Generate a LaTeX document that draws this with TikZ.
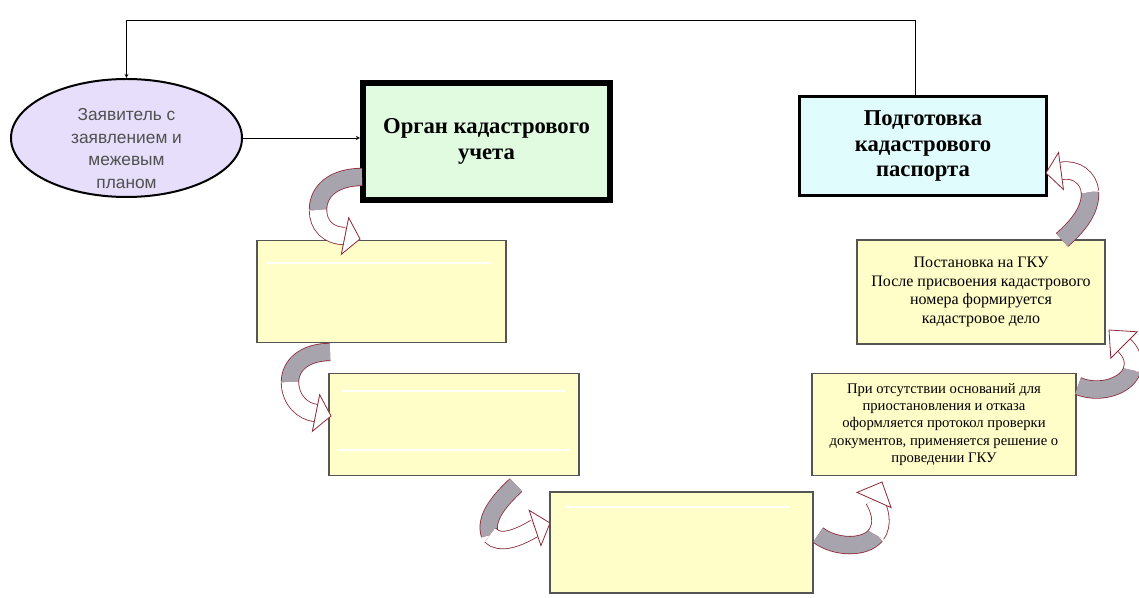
\documentclass[tikz,border=0pt]{standalone}
\usepackage{fontspec}
\setmainfont{Liberation Serif}
\newfontfamily\ovalfont{Liberation Sans}
\usetikzlibrary{calc,shapes.geometric}

\definecolor{lavender}{RGB}{230,222,250}
\definecolor{mint}{RGB}{224,251,224}
\definecolor{icecyan}{RGB}{224,252,252}
\definecolor{paleyellow}{RGB}{255,253,200}
\definecolor{bandgray}{RGB}{168,164,174}
\definecolor{bandred}{RGB}{140,40,55}
\definecolor{boxgray}{RGB}{85,85,85}
\definecolor{ovaltext}{RGB}{80,80,80}

% head of a curved block arrow: base point, tip point
\newcommand{\bandhead}[2]{\draw[headtip] (#2) -- ($(#1)!14pt!90:(#2)$) -- ($(#1)!14pt!-90:(#2)$) -- cycle;}

\begin{document}
\begin{tikzpicture}[x=0.75pt, y=-0.75pt, >=stealth,
    oval/.style = {draw, ellipse, line width=1.5pt, fill=lavender, minimum width=231*0.75pt, minimum height=118*0.75pt, inner sep=0pt},
    mainbox/.style = {draw, fill=mint, line width=4.5pt, minimum width=247*0.75pt, minimum height=117*0.75pt, align=center, font=\bfseries\fontsize{17}{20}\selectfont},
    passbox/.style = {draw, fill=icecyan, line width=2.2pt, minimum width=247*0.75pt, minimum height=99*0.75pt, align=center, font=\bfseries\fontsize{17}{19}\selectfont},
    stepbox/.style = {draw=boxgray, fill=paleyellow, line width=0.8pt, minimum height=102*0.75pt, align=center, inner sep=0pt},
    gloss/.style = {white, line width=1.3pt},
    band/.style = {draw=bandred, line width=0.6pt, double distance=12.5pt},
    headtip/.style = {draw=bandred, fill=white, line width=0.6pt, line join=miter}]
    \useasboundingbox (0,0) rectangle (1139,598);

    %% Nodes
    \node[oval, label={[font=\ovalfont\fontsize{13}{17}\selectfont, text=ovaltext, align=center, yshift=-8pt]center:Заявитель с\\заявлением и\\межевым\\планом}] (applicant) at (126.5,138) {};
    \node[mainbox] (organ) at (486.5,141.5) {Орган кадастрового\\учета};
    \node[passbox] (passport) at (923,146) {Подготовка\\кадастрового\\паспорта};
    \node[stepbox, minimum width=249*0.75pt] (intake) at (381.5,291.5) {};
    \node[stepbox, minimum width=250*0.75pt] (check) at (454,424.5) {};
    \node[stepbox, minimum width=263*0.75pt, minimum height=101*0.75pt] (review) at (681.5,542.5) {};
    \node[stepbox, minimum width=264*0.75pt, font=\fontsize{11}{12.8}\selectfont] (protocol) at (944,424.5) {При отсутствии оснований для\\приостановления и отказа\\оформляется протокол проверки\\документов, применяется решение о\\проведении ГКУ};
    \node[stepbox, minimum width=248*0.75pt, minimum height=104*0.75pt, font=\fontsize{12}{14}\selectfont] (register) at (981,292) {Постановка на ГКУ\\После присвоения кадастрового\\номера формируется\\кадастровое дело};

    %% white strokes inside the empty boxes
    \draw[gloss] (266,263) -- (492,263);
    \draw[gloss] (342,391) -- (566,391);
    \draw[gloss] (337,450) -- (570,450);
    \draw[gloss] (565,507) -- (790,507);

    %% Arrows
    \draw[->] ([xshift=-6pt]passport.north) -- ++(0,-75) -| (applicant.north);
    \draw[->] (applicant.east) -- (applicant.east -| organ.west);

    %% curved block arrows
    \draw[band, double=bandgray] (362,177) .. controls (335,177) and (318,190) .. (318,210);
    \draw[band, double=white] (318,210) .. controls (318,225) and (328,236) .. (345,236);
    \bandhead{345,236}{360,239}
    \draw[band, double=bandgray] (330,352) .. controls (305,352) and (290,365) .. (290,382);
    \draw[band, double=white] (290,382) .. controls (290,400) and (303,412) .. (316,413);
    \bandhead{316,413}{331,416}
    \draw[band, double=bandgray] (516,485) .. controls (500,500) and (484,518) .. (490,535);
    \draw[band, double=white] (490,535) .. controls (500,546) and (520,537) .. (535,528);
    \bandhead{535,528}{550,523}
    \draw[band, double=bandgray] (818,535) .. controls (835,548) and (865,549) .. (876,535);
    \draw[band, double=white] (876,535) .. controls (884,524) and (880,510) .. (874,500);
    \bandhead{874,500}{882,482}
    \draw[band, double=bandgray] (1078,386) .. controls (1100,395) and (1127,386) .. (1132,370);
    \draw[band, double=white] (1132,370) .. controls (1135,360) and (1131,352) .. (1124,345);
    \bandhead{1124,345}{1109,330}
    \draw[band, double=bandgray] (1062,240) .. controls (1078,226) and (1091,210) .. (1090,192);
    \draw[band, double=white] (1090,192) .. controls (1089,178) and (1076,168) .. (1061,171);
    \bandhead{1061,171}{1046,173}
\end{tikzpicture}
\end{document}
